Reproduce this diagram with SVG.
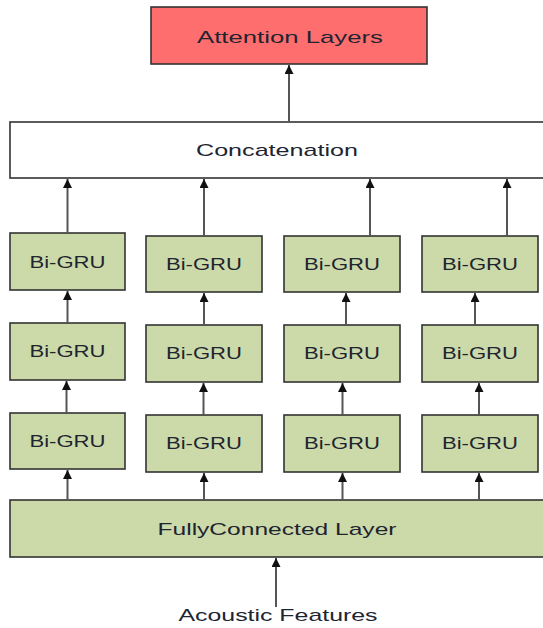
<svg xmlns="http://www.w3.org/2000/svg" width="543" height="628" viewBox="0 0 543 628">
<style>
.box{stroke:#333;stroke-width:1.6}
.g{fill:#CCDAA9}
.r{fill:#FF6E6E}
.w{fill:#FFFFFF}
.t{font-family:"Liberation Sans",Arial,sans-serif;font-size:17px;fill:#1e2430;text-anchor:middle}
.c line{stroke:#555;stroke-width:2}
</style>
<defs>
<marker id="ah" viewBox="0 0 10 10" refX="10" refY="5" markerWidth="4.5" markerHeight="4.5" orient="auto" markerUnits="strokeWidth">
<path d="M0,0 L10,5 L0,10 z" fill="#111"/>
</marker>
</defs>
<g id="attention"><rect class="box r" x="151" y="7" width="276" height="57"/><text class="t" x="290" y="43" textLength="186" lengthAdjust="spacingAndGlyphs">Attention Layers</text></g>
<g id="concat"><rect class="box w" x="10" y="122" width="540" height="56"/><text class="t" x="277" y="156" textLength="162" lengthAdjust="spacingAndGlyphs">Concatenation</text></g>
<g id="gru-1-3"><rect class="box g" x="10" y="233" width="115" height="57"/><text class="t" x="67.5" y="268" textLength="76" lengthAdjust="spacingAndGlyphs">Bi-GRU</text></g>
<g id="gru-2-3"><rect class="box g" x="146" y="236" width="116" height="56"/><text class="t" x="204" y="270" textLength="76" lengthAdjust="spacingAndGlyphs">Bi-GRU</text></g>
<g id="gru-3-3"><rect class="box g" x="284" y="236" width="116" height="56"/><text class="t" x="342" y="270" textLength="76" lengthAdjust="spacingAndGlyphs">Bi-GRU</text></g>
<g id="gru-4-3"><rect class="box g" x="422" y="236" width="116" height="56"/><text class="t" x="480" y="270" textLength="76" lengthAdjust="spacingAndGlyphs">Bi-GRU</text></g>
<g id="gru-1-2"><rect class="box g" x="10" y="323" width="115" height="57"/><text class="t" x="67.5" y="357" textLength="76" lengthAdjust="spacingAndGlyphs">Bi-GRU</text></g>
<g id="gru-2-2"><rect class="box g" x="146" y="325" width="116" height="57"/><text class="t" x="204" y="359" textLength="76" lengthAdjust="spacingAndGlyphs">Bi-GRU</text></g>
<g id="gru-3-2"><rect class="box g" x="284" y="325" width="116" height="57"/><text class="t" x="342" y="359" textLength="76" lengthAdjust="spacingAndGlyphs">Bi-GRU</text></g>
<g id="gru-4-2"><rect class="box g" x="422" y="325" width="116" height="57"/><text class="t" x="480" y="359" textLength="76" lengthAdjust="spacingAndGlyphs">Bi-GRU</text></g>
<g id="gru-1-1"><rect class="box g" x="10" y="413" width="115" height="56"/><text class="t" x="67.5" y="447" textLength="76" lengthAdjust="spacingAndGlyphs">Bi-GRU</text></g>
<g id="gru-2-1"><rect class="box g" x="146" y="415" width="116" height="57"/><text class="t" x="204" y="449" textLength="76" lengthAdjust="spacingAndGlyphs">Bi-GRU</text></g>
<g id="gru-3-1"><rect class="box g" x="284" y="415" width="116" height="57"/><text class="t" x="342" y="449" textLength="76" lengthAdjust="spacingAndGlyphs">Bi-GRU</text></g>
<g id="gru-4-1"><rect class="box g" x="422" y="415" width="116" height="57"/><text class="t" x="480" y="449" textLength="76" lengthAdjust="spacingAndGlyphs">Bi-GRU</text></g>
<g id="fc"><rect class="box g" x="10" y="500" width="540" height="57"/><text class="t" x="277" y="535" textLength="239" lengthAdjust="spacingAndGlyphs">FullyConnected Layer</text></g>
<g id="input"><text class="t" x="278" y="621" textLength="199" lengthAdjust="spacingAndGlyphs">Acoustic Features</text></g>
<g class="c" marker-end="url(#ah)">
<line x1="289" y1="122" x2="289" y2="65" marker-end="url(#ah)"/>
<line x1="67.5" y1="233" x2="67.5" y2="179" marker-end="url(#ah)"/>
<line x1="204" y1="236" x2="204" y2="179" marker-end="url(#ah)"/>
<line x1="370" y1="236" x2="370" y2="179" marker-end="url(#ah)"/>
<line x1="507" y1="236" x2="507" y2="179" marker-end="url(#ah)"/>
<line x1="67.5" y1="323" x2="67.5" y2="291" marker-end="url(#ah)"/>
<line x1="204" y1="325" x2="204" y2="293" marker-end="url(#ah)"/>
<line x1="346" y1="325" x2="346" y2="293" marker-end="url(#ah)"/>
<line x1="475" y1="325" x2="475" y2="293" marker-end="url(#ah)"/>
<line x1="66.5" y1="413" x2="66.5" y2="381" marker-end="url(#ah)"/>
<line x1="203.5" y1="415" x2="203.5" y2="383" marker-end="url(#ah)"/>
<line x1="342.5" y1="415" x2="342.5" y2="383" marker-end="url(#ah)"/>
<line x1="479" y1="415" x2="479" y2="383" marker-end="url(#ah)"/>
<line x1="67.5" y1="500" x2="67.5" y2="470" marker-end="url(#ah)"/>
<line x1="204" y1="500" x2="204" y2="473" marker-end="url(#ah)"/>
<line x1="342.5" y1="500" x2="342.5" y2="473" marker-end="url(#ah)"/>
<line x1="479" y1="500" x2="479" y2="473" marker-end="url(#ah)"/>
<line x1="276" y1="607" x2="276" y2="558" marker-end="url(#ah)"/>
</g>
</svg>
